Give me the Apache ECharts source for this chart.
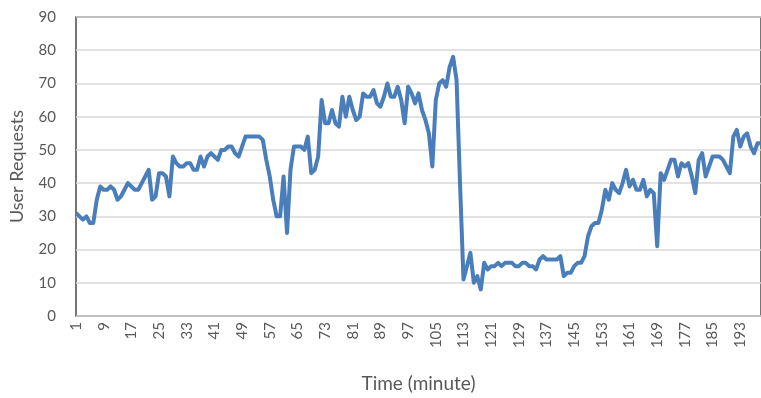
<!DOCTYPE html>
<html>
<head>
<meta charset="utf-8">
<script src="https://cdn.jsdelivr.net/npm/echarts@6/dist/echarts.min.js"></script>
<style>html,body{margin:0;padding:0;background:#fff}#c{width:761px;height:398px}</style>
</head>
<body>
<div id="c"></div>
<script>
const minutes = Array.from({length: 199}, (_, i) => String(i + 1));
const userRequests = [
  31,30,29,30,28,28,35,39,38,38, 39,38,35,36,38,40,39,38,38,40,
  42,44,35,36,43,43,42,36,48,46, 45,45,46,46,44,44,48,45,48,49,
  48,47,50,50,51,51,49,48,51,54, 54,54,54,54,53,47,42,35,30,30,
  42,25,44,51,51,51,50,54,43,44, 48,65,58,58,62,58,57,66,60,66,
  62,59,60,67,66,66,68,64,63,66, 70,66,66,69,65,58,69,67,64,67,
  62,59,55,45,65,70,71,69,75,78, 71,40,11,15,19,10,12,8,16,14,
  15,15,16,15,16,16,16,15,15,16, 16,15,15,14,17,18,17,17,17,17,
  18,12,13,13,15,16,16,18,24,27, 28,28,32,38,35,40,38,37,40,44,
  39,41,38,38,41,36,38,37,21,43, 41,44,47,47,42,46,45,46,42,37,
  47,49,42,45,48,48,48,47,45,43, 54,56,51,54,55,51,49,52,52
];
const yTicks = {min: 0, max: 90, step: 10};

const chart = echarts.init(document.getElementById('c'));
const font = 'Lato, "Open Sans", sans-serif';
chart.setOption({
  animation: false,
  grid: {left: 76, top: 17, right: -1, bottom: 80, show: true, borderColor: '#4a4a4a', borderWidth: 1.5},
  xAxis: {
    type: 'category', data: minutes, boundaryGap: false,
    name: 'Time (minute)', nameLocation: 'middle', nameGap: 58,
    nameTextStyle: {fontFamily: font, fontSize: 19, color: '#595959'},
    axisLine: {show: false}, axisTick: {show: false},
    axisLabel: {interval: 7, rotate: 90, margin: 6, fontFamily: font, fontSize: 15, color: '#595959'}
  },
  yAxis: {
    type: 'value', min: yTicks.min, max: yTicks.max, interval: yTicks.step,
    name: 'User Requests', nameLocation: 'middle', nameGap: 50,
    nameTextStyle: {fontFamily: font, fontSize: 18, color: '#595959'},
    axisLine: {show: false}, axisTick: {show: false},
    axisLabel: {margin: 20, fontFamily: font, fontSize: 15, color: '#595959'},
    splitLine: {lineStyle: {color: '#d9d9d9', width: 1.5}}
  },
  series: [{
    type: 'line', data: userRequests, showSymbol: false,
    lineStyle: {color: '#4a7ebb', width: 4, join: 'round'}
  }]
});
</script>
</body>
</html>
